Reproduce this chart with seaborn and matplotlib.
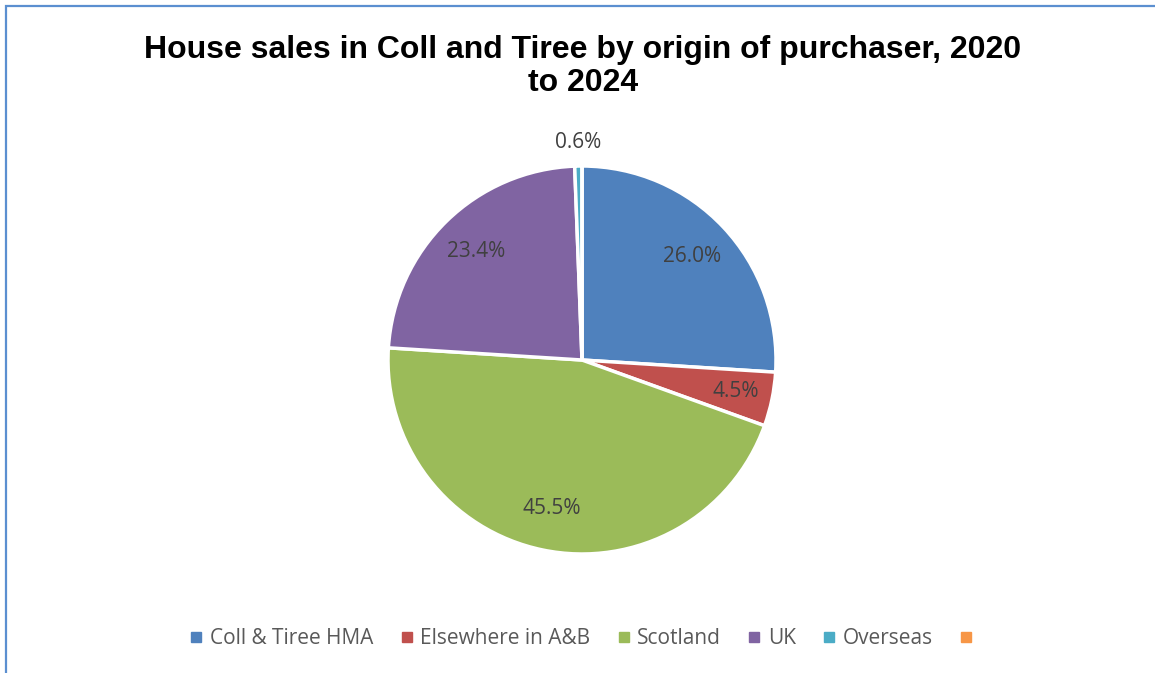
import matplotlib
matplotlib.use("Agg")
import matplotlib.pyplot as plt
from matplotlib.lines import Line2D
from matplotlib.patches import Rectangle
import seaborn as sns
import numpy as np

sns.set_theme(style="white")
plt.rcParams["font.family"] = ["Open Sans", "DejaVu Sans"]

# Share of house sales by where the purchaser came from (%)
categories = ["Coll & Tiree HMA", "Elsewhere in A&B", "Scotland", "UK", "Overseas", ""]
shares = [26.0, 4.5, 45.5, 23.4, 0.6, 0.0]
colors = ["#4F81BD", "#C0504D", "#9BBB59", "#8064A2", "#4BACC6", "#F79646"]
title = "House sales in Coll and Tiree by origin of purchaser, 2020\nto 2024"

W, H = 1155, 673
fig = plt.figure(figsize=(W / 100, H / 100), dpi=100)
fig.patch.set_facecolor("white")

# chart frame (left and top edges visible)
fig.patches.append(Rectangle((6 / W, -0.05), 1.2, 1 - 6 / H + 0.05,
                             transform=fig.transFigure, fill=False,
                             edgecolor="#5B8FD0", linewidth=1.6))

cx, cy, r = 582, 360, 194
ax = fig.add_axes([(cx - r) / W, (H - cy - r) / H, 2 * r / W, 2 * r / H])

wedges, texts, autotexts = ax.pie(
    shares, colors=colors, startangle=90, counterclock=False,
    autopct=lambda p: f"{p:.1f}%" if p > 0 else "", pctdistance=0.78,
    wedgeprops=dict(edgecolor="white", linewidth=2.5),
    textprops=dict(color="#404040", fontsize=15),
)
ax.set_xlim(-1, 1)
ax.set_ylim(-1, 1)
ax.set_aspect("equal")
ax.axis("off")

# push labels for narrow slices further out
for w, t, v in zip(wedges, autotexts, shares):
    if v <= 0:
        continue
    ang = np.deg2rad((w.theta1 + w.theta2) / 2)
    if v < 2:
        d = 1.12
    elif v < 10:
        d = 0.81
    else:
        continue
    t.set_position((d * np.cos(ang), d * np.sin(ang)))

fig.text(583 / W, 1 - 66.5 / H, title, ha="center", va="center",
         fontsize=23, fontweight="bold", family="Liberation Sans",
         color="black", linespacing=1.15)

handles = [Line2D([], [], marker="s", linestyle="none", markersize=6.5,
                  markerfacecolor=c, markeredgecolor=c) for c in colors]
fig.legend(handles, categories, loc="center", bbox_to_anchor=(585 / W, 1 - 639 / H),
           ncol=6, frameon=False, fontsize=15, handlelength=0.6,
           handletextpad=0.35, columnspacing=1.3, labelcolor="#595959")

fig.savefig("out.png", dpi=100)
